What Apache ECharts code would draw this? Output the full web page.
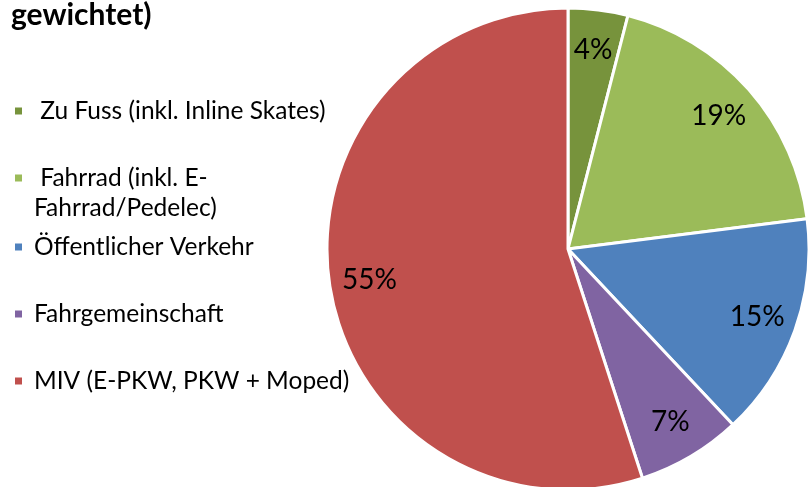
<!DOCTYPE html>
<html>
<head>
<meta charset="utf-8">
<script src="https://cdn.jsdelivr.net/npm/echarts@6/dist/echarts.min.js"></script>
<style>
  html, body { margin: 0; padding: 0; background: #fff; }
  #chart { width: 811px; height: 487px; }
</style>
</head>
<body>
<div id="chart"></div>
<script>
// Daten
const categories = [' Zu Fuss (inkl. Inline Skates)', ' Fahrrad (inkl. E-Fahrrad/Pedelec)', 'Öffentlicher Verkehr', 'Fahrgemeinschaft', 'MIV (E-PKW, PKW + Moped)']
const shares = [4, 19, 15, 7, 55]
const colors = ['#77933C', '#9BBB59', '#4F81BD', '#8064A2', '#C0504D']

const font = 'Lato, "Open Sans", sans-serif'
const legendCenters = [111, 178, 247, 314, 381] // Mitte des Markers
const lineH = 30

// Fahrrad-Eintrag umbrechen wie im Original, Leerzeile davor damit der Marker auf Zeile 1 sitzt
function legendText(name) {
  if (name.indexOf('E-Fahrrad') >= 0) return '\u00a0\n' + name.replace('E-', 'E-\n')
  return name
}

const chart = echarts.init(document.getElementById('chart'), null, { renderer: 'canvas' })

const pieData = categories.map((n, i) => ({ name: n, value: shares[i], itemStyle: { color: colors[i] } }))

chart.setOption({
  animation: false,
  title: {
    text: 'gewichtet)',
    left: 11,
    top: 0,
    padding: 0,
    textStyle: { fontFamily: font, fontWeight: 'bold', fontSize: 30, color: '#000' }
  },
  legend: categories.map((name, i) => {
    const lines = legendText(name).split('\n').length
    return {
      data: [name],
      left: 13,
      top: legendCenters[i] - lines * lineH / 2,
      padding: 0,
      icon: 'rect',
      itemWidth: 9,
      itemHeight: 9,
      selectedMode: false,
      formatter: legendText,
      textStyle: { fontFamily: font, fontSize: 24.5, color: '#000', lineHeight: lineH, padding: [0, 0, 0, 6] }
    }
  }),
  series: [
    {
      type: 'pie',
      center: [568, 249],
      radius: [0, 241],
      startAngle: 90,
      clockwise: true,
      silent: true,
      data: pieData,
      itemStyle: { borderColor: '#fff', borderWidth: 3 },
      label: { show: false },
      labelLine: { show: false }
    },
    {
      // nur für die Prozentwerte (liegen bei ca. 0.83 r)
      type: 'pie',
      center: [568, 249],
      radius: [0, 396],
      startAngle: 90,
      clockwise: true,
      silent: true,
      legendHoverLink: false,
      data: pieData.map(d => ({ name: d.name, value: d.value })),
      itemStyle: { color: 'rgba(0,0,0,0)', borderWidth: 0 },
      label: { show: true, position: 'inside', formatter: '{c}%', fontFamily: font, fontSize: 28, color: '#000' },
      labelLine: { show: false }
    }
  ]
})
</script>
</body>
</html>
